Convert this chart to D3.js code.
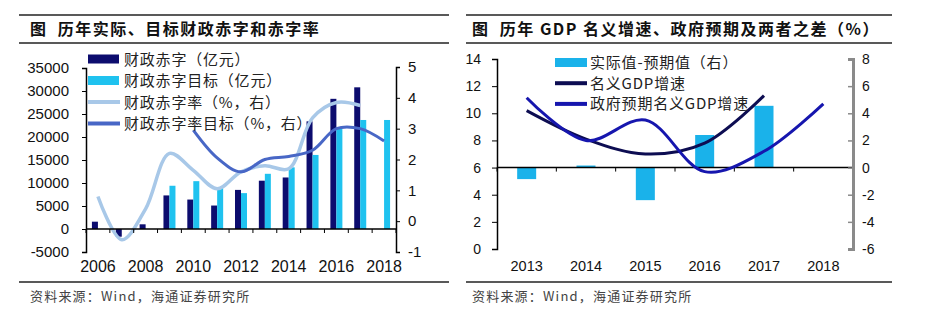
<!DOCTYPE html>
<html>
<head>
<meta charset="utf-8">
<script src="https://cdn.jsdelivr.net/npm/d3@7"></script>
<style>
body { margin: 0; background: #fff; }
text { font-family: "Liberation Sans", Arial, sans-serif; fill: #111; }
.cn { font-family: "Noto Sans CJK SC", sans-serif; }
</style>
</head>
<body>
<div id="chart"></div>
<script>
// ---- left chart data
var years1 = ["2006","2007","2008","2009","2010","2011","2012","2013","2014","2015","2016","2017","2018"];
var deficit = [1590, -1670, 1020, 7300, 6400, 5100, 8500, 10500, 11200, 23400, 28300, 30800, null];
var deficitTarget = [null, null, null, 9400, 10400, 9000, 7800, 12000, 13400, 16100, 21800, 23700, 23700];
var deficitRate = [0.8, -0.6, 0.4, 2.2, 1.65, 1.05, 1.6, 1.8, 1.7, 3.35, 3.85, 3.75, null];
var rateTarget = [null, null, null, null, 2.95, 2.05, 1.6, 2.0, 2.1, 2.3, 3.0, 3.0, 2.6];
var leftTicks1 = [-5000, 0, 5000, 10000, 15000, 20000, 25000, 30000, 35000];
var rightTicks1 = [-1, 0, 1, 2, 3, 4, 5];
var yearLabels1 = ["2006","2008","2010","2012","2014","2016","2018"];
var legend1 = ["财政赤字（亿元）", "财政赤字目标（亿元）", "财政赤字率（%，右）", "财政赤字率目标（%，右）"];

// ---- right chart data
var years2 = ["2013","2014","2015","2016","2017","2018"];
var gap = [-0.85, 0.15, -2.4, 2.4, 4.55, null];
var nominal = [10.2, 8.1, 7.0, 7.8, 11.3, null];
var expected = [11.15, 8.0, 9.5, 5.7, 7.2, 10.7];
var leftTicks2 = [0, 2, 4, 6, 8, 10, 12, 14];
var rightTicks2 = [-6, -4, -2, 0, 2, 4, 6, 8];
var legend2 = ["实际值-预期值（右）", "名义GDP增速", "政府预期名义GDP增速"];

var title1 = "图  历年实际、目标财政赤字和赤字率";
var title2 = "图  历年 GDP 名义增速、政府预期及两者之差（%）";
var source = "资料来源：Wind，海通证券研究所";

var plain = function(d) { return String(d); };

var svg = d3.select("#chart").append("svg")
    .attr("width", 928)
    .attr("height", 326);

// header / footer rules
function frame(x0, x1, title, tx) {
    svg.append("line").attr("x1", x0).attr("x2", x1).attr("y1", 15).attr("y2", 15)
        .attr("stroke", "#222").attr("stroke-width", 1.5);
    svg.append("line").attr("x1", x0).attr("x2", x1).attr("y1", 43).attr("y2", 43)
        .attr("stroke", "#222").attr("stroke-width", 1.5);
    svg.append("line").attr("x1", x0).attr("x2", x1).attr("y1", 282).attr("y2", 282)
        .attr("stroke", "#222").attr("stroke-width", 1.5);
    svg.append("text").attr("class", "cn")
        .attr("x", tx).attr("y", 35)
        .style("font-size", "16px").style("font-weight", "bold").style("letter-spacing", "1.5px")
        .style("white-space", "pre")
        .text(title);
    svg.append("text").attr("class", "cn")
        .attr("x", tx).attr("y", 301)
        .style("font-size", "13px").style("fill", "#444").style("letter-spacing", "1.2px")
        .text(source);
}
frame(19, 449, title1, 30);
frame(466, 892, title2, 472);

var smooth = d3.curveCatmullRom.alpha(0.5);

// ================= left chart =================
var x1 = d3.scaleBand().domain(years1).range([86, 396]);
var yL1 = d3.scaleLinear().domain([-5000, 35000]).range([252, 68]);
var yR1 = d3.scaleLinear().domain([-1, 5]).range([252, 67]);
var barW1 = 6;

var c1 = svg.append("g");

c1.selectAll("rect.actual")
    .data(years1.map(function(y, i) { return {year: y, v: deficit[i]}; }).filter(function(d) { return d.v != null; }))
    .enter().append("rect")
    .attr("class", "actual")
    .attr("x", function(d) { return x1(d.year) + x1.bandwidth() / 2 - barW1; })
    .attr("y", function(d) { return yL1(Math.max(0, d.v)); })
    .attr("width", barW1)
    .attr("height", function(d) { return Math.abs(yL1(d.v) - yL1(0)); })
    .attr("fill", "#0c0c6e");

c1.selectAll("rect.target")
    .data(years1.map(function(y, i) { return {year: y, v: deficitTarget[i]}; }).filter(function(d) { return d.v != null; }))
    .enter().append("rect")
    .attr("class", "target")
    .attr("x", function(d) { return x1(d.year) + x1.bandwidth() / 2; })
    .attr("y", function(d) { return yL1(Math.max(0, d.v)); })
    .attr("width", barW1)
    .attr("height", function(d) { return Math.abs(yL1(d.v) - yL1(0)); })
    .attr("fill", "#1fc2ef");

var line1 = d3.line()
    .defined(function(d) { return d.v != null; })
    .x(function(d) { return x1(d.year) + x1.bandwidth() / 2; })
    .y(function(d) { return yR1(d.v); })
    .curve(smooth);

c1.append("path")
    .datum(years1.map(function(y, i) { return {year: y, v: deficitRate[i]}; }))
    .attr("d", line1)
    .attr("fill", "none").attr("stroke", "#a8c8e8").attr("stroke-width", 3.5);

c1.append("path")
    .datum(years1.map(function(y, i) { return {year: y, v: rateTarget[i]}; }))
    .attr("d", line1)
    .attr("fill", "none").attr("stroke", "#4867c6").attr("stroke-width", 3);

// zero line with category ticks
var zero1 = yL1(0);
c1.append("line").attr("x1", 86).attr("x2", 396).attr("y1", zero1).attr("y2", zero1)
    .attr("stroke", "#000").attr("stroke-width", 1.5);
c1.selectAll("line.xt")
    .data(years1.concat(["end"]))
    .enter().append("line")
    .attr("class", "xt")
    .attr("x1", function(d) { return d == "end" ? 396 : x1(d); })
    .attr("x2", function(d) { return d == "end" ? 396 : x1(d); })
    .attr("y1", zero1).attr("y2", zero1 + 4)
    .attr("stroke", "#000").attr("stroke-width", 1);

var ax1 = c1.append("g").attr("transform", "translate(86,0)")
    .call(d3.axisLeft(yL1).tickValues(leftTicks1).tickFormat(plain).tickSize(4).tickPadding(13));
var ax2 = c1.append("g").attr("transform", "translate(396,0)")
    .call(d3.axisRight(yR1).tickValues(rightTicks1).tickFormat(plain).tickSize(4).tickPadding(8));
[ax1, ax2].forEach(function(a) {
    a.selectAll("text").style("font-size", "15px").style("fill", "#111");
    a.select(".domain").attr("stroke-width", 1.5);
});

var ax3 = c1.append("g").attr("transform", "translate(0,252)")
    .call(d3.axisBottom(x1).tickValues(yearLabels1).tickSize(0).tickPadding(9));
ax3.select(".domain").remove();
ax3.selectAll("text").style("font-size", "16px").style("fill", "#111");

// legend
var lg1 = c1.selectAll("g.lg").data(legend1).enter().append("g")
    .attr("class", "lg")
    .attr("transform", function(d, i) { return "translate(88," + (59 + i * 21.5) + ")"; });
lg1.each(function(d, i) {
    var g = d3.select(this);
    if (i < 2) {
        g.append("rect").attr("x", 0).attr("y", -4.5).attr("width", 31).attr("height", 9)
            .attr("fill", i == 0 ? "#0c0c6e" : "#1fc2ef");
    } else {
        g.append("line").attr("x1", 0).attr("x2", 32).attr("y1", 0).attr("y2", 0)
            .attr("stroke", i == 2 ? "#a8c8e8" : "#4867c6").attr("stroke-width", 4);
    }
    g.append("text").attr("class", "cn").attr("x", 36).attr("y", 5.5)
        .style("font-size", "15px").style("fill", "#222").style("letter-spacing", "0.8px").text(d);
});

// ================= right chart =================
var x2 = d3.scaleBand().domain(years2).range([497, 853]);
var yL2 = d3.scaleLinear().domain([0, 14]).range([249, 59]);
var yR2 = d3.scaleLinear().domain([-6, 8]).range([249, 59]);
var barW2 = 19;

var c2 = svg.append("g");

c2.selectAll("rect.gap")
    .data(years2.map(function(y, i) { return {year: y, v: gap[i]}; }).filter(function(d) { return d.v != null; }))
    .enter().append("rect")
    .attr("class", "gap")
    .attr("x", function(d) { return x2(d.year) + x2.bandwidth() / 2 - barW2 / 2; })
    .attr("y", function(d) { return yR2(Math.max(0, d.v)); })
    .attr("width", barW2)
    .attr("height", function(d) { return Math.abs(yR2(d.v) - yR2(0)); })
    .attr("fill", "#1ab2ea");

var zero2 = yR2(0);
c2.append("line").attr("x1", 497).attr("x2", 853).attr("y1", zero2).attr("y2", zero2)
    .attr("stroke", "#000").attr("stroke-width", 1.5);
c2.selectAll("line.xt")
    .data(years2.concat(["end"]))
    .enter().append("line")
    .attr("class", "xt")
    .attr("x1", function(d) { return d == "end" ? 853 : x2(d); })
    .attr("x2", function(d) { return d == "end" ? 853 : x2(d); })
    .attr("y1", zero2).attr("y2", zero2 + 4)
    .attr("stroke", "#000").attr("stroke-width", 1);

var line2 = d3.line()
    .defined(function(d) { return d.v != null; })
    .x(function(d) { return x2(d.year) + x2.bandwidth() / 2; })
    .y(function(d) { return yL2(d.v); })
    .curve(smooth);

c2.append("path")
    .datum(years2.map(function(y, i) { return {year: y, v: nominal[i]}; }))
    .attr("d", line2)
    .attr("fill", "none").attr("stroke", "#0d0d52").attr("stroke-width", 3);

c2.append("path")
    .datum(years2.map(function(y, i) { return {year: y, v: expected[i]}; }))
    .attr("d", line2)
    .attr("fill", "none").attr("stroke", "#1616ae").attr("stroke-width", 3);

var bx1 = c2.append("g").attr("transform", "translate(497,0)")
    .call(d3.axisLeft(yL2).tickValues(leftTicks2).tickFormat(plain).tickSize(5).tickPadding(11));
bx1.select(".domain").attr("stroke-width", 1.5);
var bx2 = c2.append("g").attr("transform", "translate(853,0)")
    .call(d3.axisRight(yR2).tickValues(rightTicks2).tickFormat(plain).tickSizeInner(-5).tickSizeOuter(-5).tickPadding(9));
bx2.select(".domain").attr("stroke", "#8a8a8a").attr("stroke-width", 3);
bx2.selectAll(".tick line").attr("stroke", "#8a8a8a").attr("stroke-width", 1.5);
[bx1, bx2].forEach(function(a) {
    a.selectAll("text").style("font-size", "14px").style("fill", "#111");
});

var bx3 = c2.append("g").attr("transform", "translate(0,249)")
    .call(d3.axisBottom(x2).tickSize(0).tickPadding(12));
bx3.select(".domain").remove();
bx3.selectAll("text").style("font-size", "14.5px").style("fill", "#111");

var lg2 = c2.selectAll("g.lg").data(legend2).enter().append("g")
    .attr("class", "lg")
    .attr("transform", function(d, i) { return "translate(555," + (62.5 + i * 20.7) + ")"; });
lg2.each(function(d, i) {
    var g = d3.select(this);
    if (i == 0) {
        g.append("rect").attr("x", 0).attr("y", -4.5).attr("width", 32).attr("height", 9)
            .attr("fill", "#1ab2ea");
    } else {
        g.append("line").attr("x1", 0).attr("x2", 32).attr("y1", 0).attr("y2", 0)
            .attr("stroke", i == 1 ? "#0d0d52" : "#1616ae").attr("stroke-width", 4);
    }
    g.append("text").attr("class", "cn").attr("x", 35).attr("y", 5.5)
        .style("font-size", "15px").style("fill", "#222").style("letter-spacing", "0.8px").text(d);
});
</script>
</body>
</html>
